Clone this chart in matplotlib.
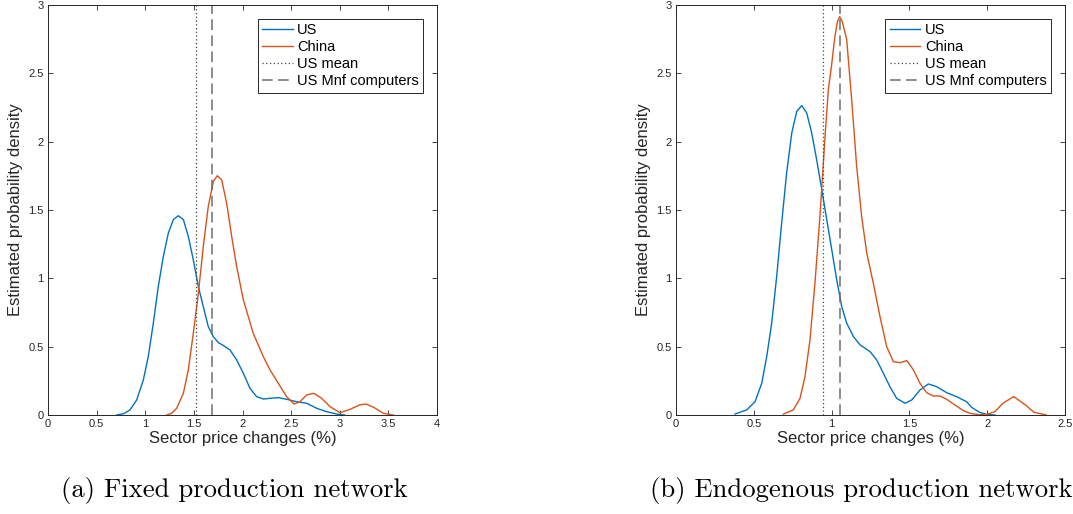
import numpy as np
import matplotlib
matplotlib.use("Agg")
import matplotlib.pyplot as plt

# kernel density estimates of sector price changes (%)
# panel (a): fixed production network
fixed_us_x = [0.706, 0.78, 0.843, 0.912, 0.98, 1.031, 1.083, 1.134, 1.186, 1.237, 1.289,
              1.34, 1.392, 1.443, 1.494, 1.546, 1.597, 1.648, 1.70, 1.751, 1.80, 1.871,
              1.94, 2.009, 2.077, 2.146, 2.214, 2.283, 2.368, 2.454, 2.557, 2.66, 2.763,
              2.866, 2.969, 3.05]
fixed_us_y = [0.0, 0.01, 0.037, 0.11, 0.256, 0.427, 0.672, 0.94, 1.16, 1.33, 1.43,
              1.458, 1.43, 1.306, 1.136, 0.94, 0.793, 0.647, 0.574, 0.53, 0.51, 0.476,
              0.403, 0.305, 0.195, 0.134, 0.117, 0.122, 0.127, 0.115, 0.097, 0.086,
              0.049, 0.024, 0.007, 0.0]
fixed_cn_x = [1.22, 1.27, 1.323, 1.392, 1.443, 1.494, 1.546, 1.597, 1.648, 1.70, 1.741,
              1.786, 1.837, 1.889, 1.94, 2.009, 2.11, 2.214, 2.283, 2.368, 2.454, 2.53,
              2.591, 2.66, 2.735, 2.814, 2.90, 3.003, 3.105, 3.208, 3.27, 3.35, 3.45, 3.55]
fixed_cn_y = [0.0, 0.012, 0.049, 0.159, 0.33, 0.598, 0.89, 1.233, 1.526, 1.709, 1.751,
              1.72, 1.55, 1.306, 1.086, 0.842, 0.598, 0.427, 0.33, 0.232, 0.134, 0.08,
              0.097, 0.147, 0.159, 0.122, 0.061, 0.017, 0.041, 0.075, 0.08, 0.056, 0.012,
              0.0]
fixed_us_mean = 1.517
fixed_us_computers = 1.685

# panel (b): endogenous production network
endo_us_x = [0.379, 0.454, 0.508, 0.551, 0.583, 0.615, 0.647, 0.679, 0.711, 0.744, 0.776,
             0.808, 0.840, 0.872, 0.904, 0.937, 0.969, 1.001, 1.033, 1.065, 1.097, 1.140,
             1.183, 1.247, 1.29, 1.333, 1.375, 1.418, 1.472, 1.515, 1.568, 1.622, 1.676,
             1.74, 1.804, 1.868, 1.9, 1.95, 2.0, 2.05]
endo_us_y = [0.007, 0.037, 0.097, 0.232, 0.427, 0.672, 1.013, 1.404, 1.77, 2.064, 2.222,
             2.264, 2.21, 2.064, 1.868, 1.648, 1.429, 1.209, 0.989, 0.793, 0.672, 0.574,
             0.513, 0.464, 0.403, 0.305, 0.207, 0.122, 0.086, 0.11, 0.183, 0.227, 0.207,
             0.163, 0.134, 0.097, 0.056, 0.02, 0.003, 0.0]
endo_cn_x = [0.69, 0.754, 0.797, 0.829, 0.861, 0.893, 0.925, 0.958, 0.979, 1.0, 1.02,
             1.038, 1.052, 1.068, 1.097, 1.129, 1.161, 1.193, 1.226, 1.268, 1.311, 1.354,
             1.397, 1.44, 1.483, 1.526, 1.568, 1.611, 1.654, 1.697, 1.74, 1.793, 1.847,
             1.89, 1.95, 2.0, 2.05, 2.1, 2.17, 2.25, 2.3, 2.38]
endo_cn_y = [0.007, 0.037, 0.122, 0.28, 0.549, 0.965, 1.453, 2.04, 2.38, 2.56, 2.76,
             2.88, 2.915, 2.88, 2.747, 2.308, 1.819, 1.453, 1.185, 0.965, 0.72, 0.50,
             0.39, 0.383, 0.398, 0.33, 0.232, 0.163, 0.139, 0.139, 0.115, 0.073, 0.032,
             0.012, 0.002, 0.005, 0.025, 0.085, 0.135, 0.07, 0.02, 0.0]
endo_us_mean = 0.947
endo_us_computers = 1.057

panels = [
    dict(us=(fixed_us_x, fixed_us_y), cn=(fixed_cn_x, fixed_cn_y),
         mean=fixed_us_mean, mnf=fixed_us_computers, xmax=4,
         xticks=[0, 0.5, 1, 1.5, 2, 2.5, 3, 3.5, 4],
         caption="(a) Fixed production network", cap_x=234),
    dict(us=(endo_us_x, endo_us_y), cn=(endo_cn_x, endo_cn_y),
         mean=endo_us_mean, mnf=endo_us_computers, xmax=2.5,
         xticks=[0, 0.5, 1, 1.5, 2, 2.5],
         caption="(b) Endogenous production network", cap_x=861.5),
]

blue = "#0072BD"
orange = "#D95319"
dark = "#262626"

plt.rcParams["font.family"] = ["Liberation Sans", "DejaVu Sans"]

W, H = 1073, 514
fig = plt.figure(figsize=(W / 100, H / 100), dpi=100)
lefts = [48, 676]
for left, p in zip(lefts, panels):
    ax = fig.add_axes([left / W, 1 - 415 / H, 389 / W, 410 / H])
    ax.plot(*p["us"], color=blue, lw=1.0, label="US", solid_joinstyle="round")
    ax.plot(*p["cn"], color=orange, lw=1.0, label="China", solid_joinstyle="round")
    ax.axvline(p["mean"], color="#444444", lw=0.9, ls=(0, (1, 2)), label="US mean")
    ax.axvline(p["mnf"], color="#6e6e6e", lw=1.1, ls=(0, (7, 3.5)),
               label="US Mnf computers")
    ax.set_xlim(0, p["xmax"])
    ax.set_ylim(0, 3)
    ax.set_xticks(p["xticks"])
    ax.set_yticks([0, 0.5, 1, 1.5, 2, 2.5, 3])
    ax.set_xticklabels([f"{t:g}" for t in p["xticks"]])
    ax.set_yticklabels(["0", "0.5", "1", "1.5", "2", "2.5", "3"])
    ax.tick_params(direction="in", length=3.5, width=0.6, colors=dark,
                   labelsize=8, top=True, right=True, pad=3)
    for s in ax.spines.values():
        s.set_color(dark)
        s.set_linewidth(0.7)
    ax.set_xlabel("Sector price changes (%)", fontsize=12, color=dark, labelpad=1)
    ax.set_ylabel("Estimated probability density", fontsize=12, color=dark,
                  labelpad=4)
    leg = ax.legend(loc="upper right", bbox_to_anchor=(1 - 14 / 389, 1 - 14 / 410),
                    borderaxespad=0, fontsize=10.5, frameon=True, fancybox=False,
                    handlelength=2.1, handletextpad=0.3, labelspacing=0.2,
                    borderpad=0.3, framealpha=1)
    leg.get_frame().set_edgecolor(dark)
    leg.get_frame().set_linewidth(0.7)
    fig.text(p["cap_x"] / W, 1 - 491 / H, p["caption"],
             family="cmr10", fontsize=19.2, ha="center", va="center")

fig.savefig("out.png", dpi=100)
